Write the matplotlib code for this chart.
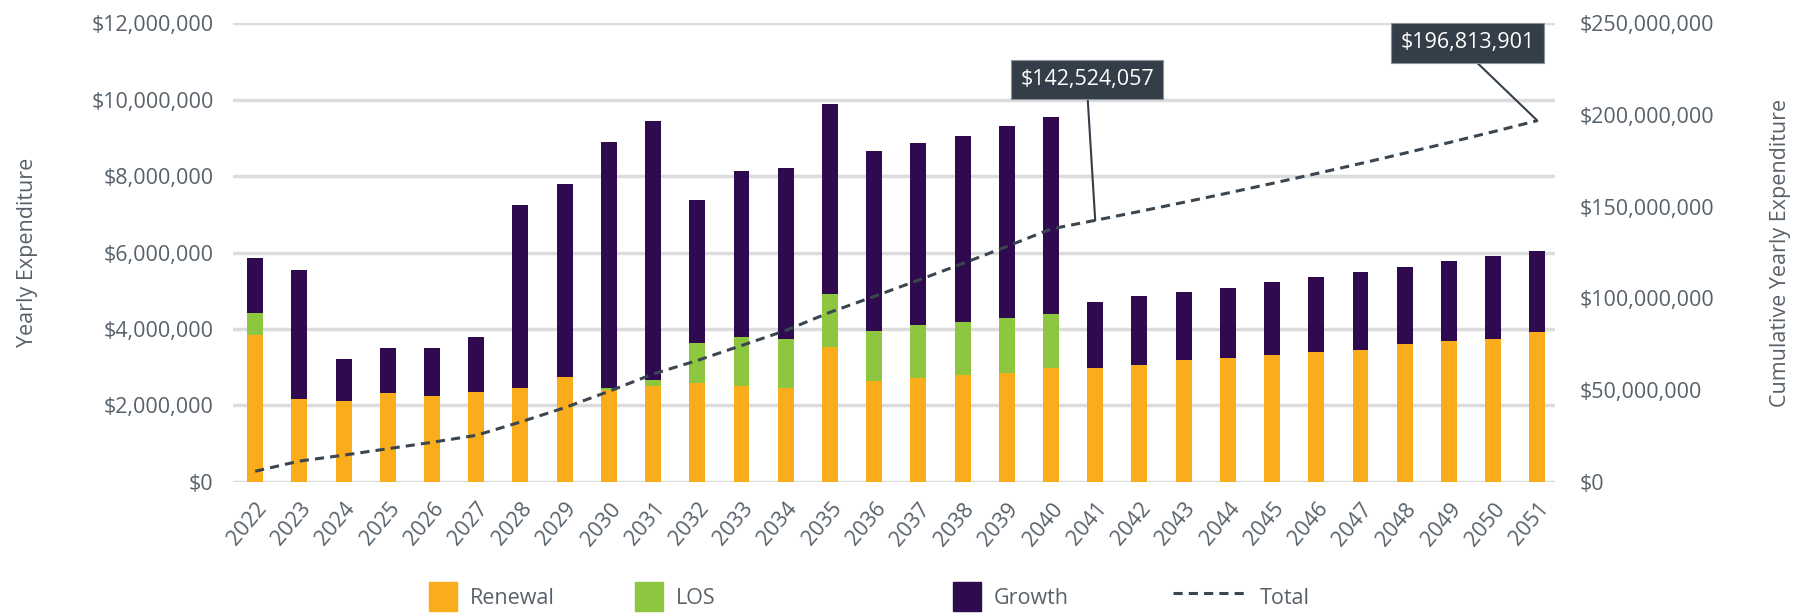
import numpy as np
import matplotlib.pyplot as plt
from matplotlib.ticker import FuncFormatter
from matplotlib.patches import Patch
from matplotlib.lines import Line2D

plt.rcParams['font.family'] = ['Open Sans', 'DejaVu Sans']

# Data (millions of dollars)
years = ['2022', '2023', '2024', '2025', '2026', '2027', '2028', '2029', '2030', '2031',
         '2032', '2033', '2034', '2035', '2036', '2037', '2038', '2039', '2040', '2041',
         '2042', '2043', '2044', '2045', '2046', '2047', '2048', '2049', '2050', '2051']
renewal = [3.84, 2.16, 2.12, 2.32, 2.26, 2.34, 2.45, 2.75, 2.40, 2.52,
           2.58, 2.52, 2.45, 3.52, 2.64, 2.73, 2.79, 2.85, 2.97, 2.99,
           3.05, 3.18, 3.25, 3.31, 3.40, 3.46, 3.62, 3.69, 3.75, 3.91]
los = [0.57, 0, 0, 0, 0, 0, 0, 0, 0.05, 0.15,
       1.05, 1.26, 1.29, 1.40, 1.31, 1.37, 1.40, 1.45, 1.42, 0,
       0, 0, 0, 0, 0, 0, 0, 0, 0, 0]
growth = [1.44, 3.37, 1.10, 1.19, 1.25, 1.46, 4.80, 5.04, 6.45, 6.78,
          3.75, 4.36, 4.46, 4.97, 4.70, 4.76, 4.85, 5.01, 5.15, 1.71,
          1.80, 1.78, 1.82, 1.91, 1.96, 2.03, 2.01, 2.08, 2.16, 2.14]
callouts = {19: '$142,524,057', 29: '$196,813,901'}

renewal = np.array(renewal) * 1e6
los = np.array(los) * 1e6
growth = np.array(growth) * 1e6
total = np.cumsum(renewal + los + growth)

c_ren, c_los, c_gro = '#f9ad1b', '#8dc63f', '#2f0a4f'
c_line = '#3b4650'
c_text = '#58616a'
c_box = '#343e48'

fig = plt.figure(figsize=(17.94, 6.14), dpi=100)
ax = fig.add_axes([0.1299, 0.215, 0.7369, 0.7475])
ax2 = ax.twinx()

x = np.arange(len(years))
w = 0.36
ax.bar(x, renewal, w, color=c_ren, zorder=3)
ax.bar(x, los, w, bottom=renewal, color=c_los, zorder=3)
ax.bar(x, growth, w, bottom=renewal + los, color=c_gro, zorder=3)

ax.set_ylim(0, 12e6)
ax.set_yticks(np.arange(0, 12e6 + 1, 2e6))
ax.set_xlim(-0.5, 29.4)
ax.yaxis.set_major_formatter(FuncFormatter(lambda v, p: f'${v:,.0f}'))
ax.grid(axis='y', color='#dcdcdc', linewidth=2.5, zorder=0)
ax.set_axisbelow(True)
ax.set_xticks(x)
ax.set_xticklabels(years, rotation=50, ha='right', va='top', rotation_mode='anchor',
                   fontsize=15.5, color=c_text)
ax.tick_params(axis='y', labelsize=15.5, colors=c_text, length=0, pad=14)
ax.tick_params(axis='x', length=0, pad=12)
ax.set_ylabel('Yearly Expenditure', fontsize=15.5, color=c_text, labelpad=38)

ax2.plot(x, total, color=c_line, linestyle=(0, (3, 2)), linewidth=2.2, zorder=4)
ax2.set_ylim(0, 250e6)
ax2.set_yticks(np.arange(0, 250e6 + 1, 50e6))
ax2.yaxis.set_major_formatter(FuncFormatter(lambda v, p: f'${v:,.0f}'))
ax2.tick_params(axis='y', labelsize=15.5, colors=c_text, length=0, pad=18)
ax2.set_ylabel('Cumulative Yearly Expenditure', fontsize=15.5, color=c_text, labelpad=40)

for a in (ax, ax2):
    for s in a.spines.values():
        s.set_visible(False)

# callout boxes
box_pos = {19: (0.606, 0.870), 29: (0.818, 0.930)}
for i, label in callouts.items():
    ax2.annotate(label, xy=(x[i], total[i]), xycoords='data',
                 xytext=box_pos[i], textcoords='figure fraction',
                 ha='center', va='center', fontsize=15.5, color='white',
                 bbox=dict(boxstyle='square,pad=0.42', fc=c_box, ec='#8a929a', lw=0.8),
                 arrowprops=dict(arrowstyle='-', color=c_box, lw=1.5,
                                 relpos=(0.5, 0), shrinkA=0, shrinkB=0),
                 zorder=6)

# legend entries placed individually
handles = [
    (Patch(color=c_ren), 'Renewal', 0.233),
    (Patch(color=c_los), 'LOS', 0.348),
    (Patch(color=c_gro), 'Growth', 0.525),
    (Line2D([], [], color=c_line, linestyle=(0, (3, 2)), linewidth=2.2), 'Total', 0.648),
]
for h, lab, xpos in handles:
    fig.legend([h], [lab], loc='center left', bbox_to_anchor=(xpos, 0.028),
               frameon=False, fontsize=15.5, labelcolor=c_text,
               handlelength=1.3 if lab != 'Total' else 3.4, handleheight=1.7,
               handletextpad=0.6, borderpad=0)

fig.savefig('out.png', dpi=100, facecolor='white')
